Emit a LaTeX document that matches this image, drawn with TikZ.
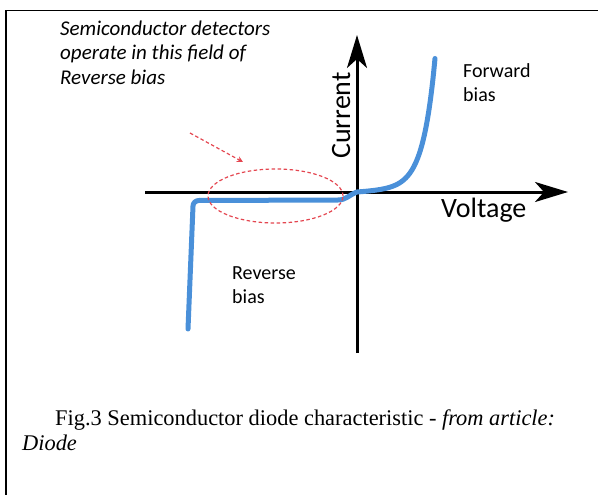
\documentclass[tikz,border=0pt]{standalone}
\usepackage{fontspec}
\setmainfont{Liberation Serif}
\newfontfamily\labelfont{Carlito}
\usetikzlibrary{arrows.meta,shapes.geometric}
\definecolor{curveblue}{RGB}{74,144,217}
\definecolor{markred}{RGB}{228,70,80}
\tikzset{
  axisline/.style={line width=3pt, -{Stealth[length=33pt,width=20pt,inset=9pt]}},
  curveline/.style={line width=5pt, curveblue, line cap=round, line join=round},
  redmark/.style={markred, line width=1.2pt, dash pattern=on 3.5pt off 2.5pt},
  lab/.style={font=\labelfont\fontsize{20}{24}\selectfont, anchor=base west, inner sep=0pt, align=left},
  biglab/.style={font=\labelfont\fontsize{28}{30}\selectfont, inner sep=0pt},
  capt/.style={font=\fontsize{22.4}{25}\selectfont, anchor=base west, inner sep=0pt}
}
\begin{document}
\begin{tikzpicture}[x=1pt,y=-1pt]
\useasboundingbox (0,0) rectangle (598,495);
% frame
\draw[line width=1.8pt] (6,495) -- (6,10.5) -- (598,10.5);
% axes
\coordinate (vbot) at (357,353);
\coordinate (vtop) at (357,35);
\coordinate (hleft) at (145,192);
\coordinate (hright) at (568,192);
\draw[axisline] (vbot) -- (vtop);
\draw[axisline] (hleft) -- (hright);
% curve
\coordinate (c0) at (188,329);
\coordinate (orig) at (357,192);
\draw[curveline] (c0) -- (193,206) to[out=90,in=180] (199,200.5) -- (338,200) to[out=0,in=200] (orig)
  -- plot[domain=0:78, samples=60, smooth] ({357+\x}, {192-0.194*(exp(\x/12)-1)-0.06*\x});
% ellipse
\node[redmark, draw, ellipse, minimum width=135pt, minimum height=54pt, inner sep=0pt] (oval) at (275.5,196) {};
% annotation
\node[lab, font=\labelfont\itshape\fontsize{21}{25}\selectfont] (note) at (60,85) {Semiconductor detectors\\operate in this field of\\Reverse bias};
\coordinate (arrstart) at (190,133);
\coordinate (arrend) at (243,162);
\draw[redmark, -{Stealth[length=6pt,width=6pt]}] (arrstart) -- (arrend);
% labels
\node[lab] (fwd) at (463,102) {Forward\\bias};
\node[lab] (rev) at (232,303) {Reverse\\bias};
\node[biglab, anchor=base west] (volt) at (441,218) {Voltage};
\node[biglab, anchor=base west, rotate=90] (curr) at (350,159) {Current};
% caption
\node[capt] (cap1) at (55,425) {Fig.3 Semiconductor diode characteristic - \textit{from article:}};
\node[capt] (cap2) at (22,450) {\textit{Diode}};
\end{tikzpicture}
\end{document}
